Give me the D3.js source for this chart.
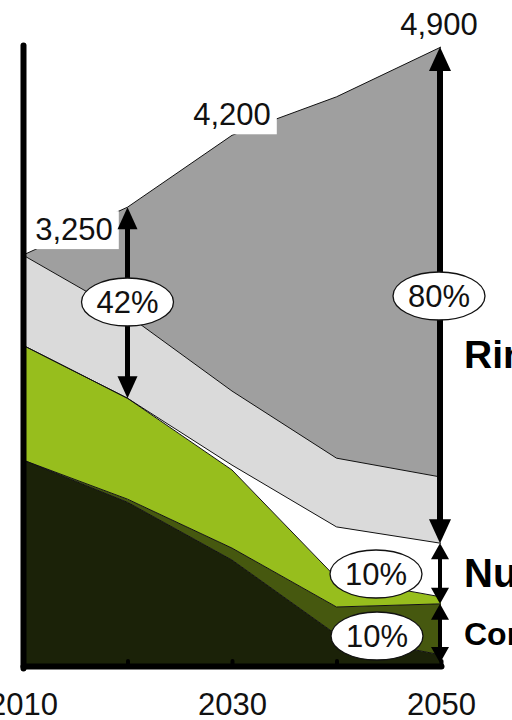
<!DOCTYPE html>
<html>
<head>
<meta charset="utf-8">
<script src="https://cdn.jsdelivr.net/npm/d3@7"></script>
<style>
  html, body { margin: 0; padding: 0; background: #fff; overflow: hidden; }
  svg { display: block; font-family: "Liberation Sans", Arial, sans-serif; }
</style>
</head>
<body>
<svg id="chart" width="512" height="720"></svg>
<script>
// Emission paths 2010–2050, stacked from the bottom up
const years      = [2010, 2020, 2030, 2040, 2050];
const residuo    = [1625, 1290,  832,  240,   80];
const ccs        = [   0,   25,   95,  220,  405];
const efficienza = [ 910,  800,  619,  230,   55];
const nucleare   = [   0,    0,   39,  405,  425];
const rinnovGrid = [ 715,  660,  587,  545,  525];
const rinnovNew  = [   0,  855, 2028, 2865, 3410];

const layerKeys   = ["residuo", "ccs", "efficienza", "nucleare", "rinnovGrid", "rinnovNew"];
const layerColors = ["#1b2208", "#46580f", "#97be1d", "#ffffff", "#dadada", "#9f9f9f"];

const tickYears  = [2010, 2020, 2030, 2040, 2050];
const tickLabels = ["2010", "", "2030", "", "2050"];

const sideLabels = ["Rinnovabili", "Nucleare", "Combustibili fossili con CCS"];
const shareLabels = ["42%", "80%", "10%", "10%"];

const rows = years.map((yr, i) => ({
  year: yr, residuo: residuo[i], ccs: ccs[i], efficienza: efficienza[i],
  nucleare: nucleare[i], rinnovGrid: rinnovGrid[i], rinnovNew: rinnovNew[i]
}));
const series = d3.stack().keys(layerKeys)(rows);
const totals = rows.map(r => layerKeys.reduce((s, k) => s + r[k], 0));

const svg = d3.select("#chart");
const x = d3.scaleLinear().domain([2010, 2050]).range([23, 441]);
const y = d3.scaleLinear().domain([0, 4900]).range([665, 47]);

// stacked areas
const area = d3.area().x(d => x(d.data.year)).y0(d => y(d[0])).y1(d => y(d[1]));
svg.append("g").selectAll("path").data(series).join("path")
  .attr("d", area)
  .attr("fill", (d, i) => layerColors[i]);

// thin boundary at the top of each layer
const topLine = d3.line().x(d => x(d.data.year)).y(d => y(d[1]));
svg.append("g").selectAll("path").data(series).join("path")
  .attr("d", topLine)
  .attr("fill", "none")
  .attr("stroke", "#111")
  .attr("stroke-width", 1);

// axes
const xAxis = svg.append("g")
  .attr("transform", `translate(0,${y(0) + 1})`)
  .call(d3.axisBottom(x).tickValues(tickYears)
    .tickFormat((d, i) => tickLabels[i]).tickSize(-5).tickSizeOuter(0).tickPadding(27));
xAxis.select(".domain").attr("stroke", "#000").attr("stroke-width", 6).attr("stroke-linecap", "round");
xAxis.selectAll(".tick line").attr("stroke", "#000").attr("stroke-width", 4).attr("stroke-linecap", "round");
xAxis.selectAll(".tick text").attr("font-size", 31).attr("fill", "#111")
  .attr("font-family", "'Liberation Sans', Arial, sans-serif").attr("dy", "0.71em");

const yAxis = svg.append("g")
  .attr("transform", `translate(${x(2010)},0)`)
  .call(d3.axisLeft(y.copy().range([y(0) + 3, y(4900) - 2])).tickValues([]).tickSizeOuter(0));
yAxis.select(".domain").attr("stroke", "#000").attr("stroke-width", 6).attr("stroke-linecap", "round");

// total labels
const fmt = d3.format(",");
function totalLabel(text, cx, baseline, boxed) {
  const t = svg.append("text").attr("x", cx).attr("y", baseline)
    .attr("text-anchor", "middle").attr("font-size", 31).attr("fill", "#111").text(text);
  if (boxed) {
    const b = t.node().getBBox();
    svg.insert("rect", () => t.node())
      .attr("x", b.x - 3).attr("y", b.y - 1).attr("width", b.width + 9).attr("height", b.height + 3)
      .attr("fill", "#fff");
  }
}
totalLabel(fmt(totals[0]), x(2010) + 51, y(totals[0]) - 15, true);
totalLabel(fmt(totals[2]), x(2030), y(totals[2]) - 10, true);
totalLabel(fmt(totals[4]), x(2050) - 2, y(totals[4]) - 12, false);

// arrows
function head(px, py, dir, w, h) {
  // dir = -1 points up, +1 points down; tip at (px, py)
  return `M${px},${py} L${px - w / 2},${py - dir * h} L${px + w / 2},${py - dir * h} Z`;
}
function arrow(px, yTop, yBot, w, h, lw) {
  const g = svg.append("g");
  g.append("line").attr("x1", px).attr("x2", px).attr("y1", yTop + h - 2).attr("y2", yBot - h + 2)
    .attr("stroke", "#000").attr("stroke-width", lw);
  g.append("path").attr("d", head(px, yTop, -1, w, h)).attr("fill", "#000");
  g.append("path").attr("d", head(px, yBot, 1, w, h)).attr("fill", "#000");
}
const cum = (i, upto) => layerKeys.slice(0, upto).reduce((s, k) => s + rows[i][k], 0);

arrow(x(2020), y(totals[1]), y(cum(1, 4)), 20, 22, 5);
arrow(x(2050) - 1, y(totals[4]), y(cum(4, 4)), 22, 24, 6);
arrow(x(2050) - 1, y(cum(4, 4)), y(cum(4, 2)), 18, 16, 4);
arrow(x(2050) - 1, y(cum(4, 2)), y(0) - 2, 18, 16, 4);

// share bubbles
function bubble(cx, cy, text) {
  svg.append("ellipse").attr("cx", cx).attr("cy", cy).attr("rx", 46).attr("ry", 24)
    .attr("fill", "#fff").attr("stroke", "#111").attr("stroke-width", 1.3);
  svg.append("text").attr("x", cx).attr("y", cy + 11).attr("text-anchor", "middle")
    .attr("font-size", 31).attr("fill", "#111").text(text);
}
bubble(x(2020), 302, shareLabels[0]);
bubble(x(2050) - 2, 296, shareLabels[1]);
bubble(376, 574, shareLabels[2]);
bubble(377, 636, shareLabels[3]);

// side labels
const side = [
  { t: sideLabels[0], y: 368, s: 39 },
  { t: sideLabels[1], y: 587, s: 40 },
  { t: sideLabels[2], y: 645, s: 32 }
];
svg.append("g").selectAll("text").data(side).join("text")
  .attr("x", 464).attr("y", d => d.y)
  .attr("font-size", d => d.s).attr("font-weight", "bold").attr("fill", "#000")
  .text(d => d.t);
</script>
</body>
</html>
